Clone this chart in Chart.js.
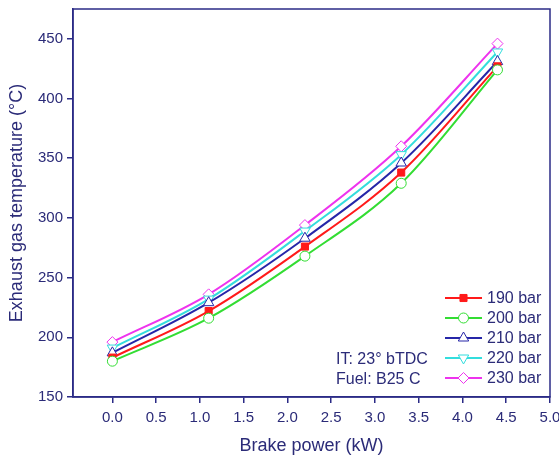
<!DOCTYPE html>
<html><head><meta charset="utf-8">
<script src="https://cdn.jsdelivr.net/npm/chart.js@4/dist/chart.umd.min.js"></script>
<style>html,body{margin:0;padding:0;background:#fff}#wrap{width:559px;height:457px}</style>
</head><body><div id="wrap"><canvas id="c" width="559" height="457"></canvas></div>
<script>
const brakePower = [0.0, 1.1, 2.2, 3.3, 4.4];
const seriesLabels = ['190 bar', '200 bar', '210 bar', '220 bar', '230 bar'];
const temp190 = [183, 222, 276, 338, 427];
const temp200 = [180, 216, 268, 329, 424];
const temp210 = [187, 229, 283, 346, 431];
const temp220 = [191, 232, 289, 353, 439];
const temp230 = [196, 236, 294, 360, 446];
const yTicks = [150, 200, 250, 300, 350, 400, 450];
const xTicks = [0, 0.5, 1, 1.5, 2, 2.5, 3, 3.5, 4, 4.5, 5];
const annotationLines = ['IT: 23\u00B0 bTDC', 'Fuel: B25 C'];

const AX = '#2b2b86';
const TXT = '#2b2b78';
const FONT = '"Liberation Sans", Arial, sans-serif';
const styles = [
  {c:'#ff1a1a', pt:'rect', fill:'#ff1a1a', rot:0, r:5},
  {c:'#33dd33', pt:'circle', fill:'#ffffff', rot:0, r:5},
  {c:'#2626a8', pt:'triangle', fill:'#ffffff', rot:0, r:6},
  {c:'#33dddd', pt:'triangle', fill:'#ffffff', rot:180, r:6},
  {c:'#ee33ee', pt:'rectRot', fill:'#ffffff', rot:0, r:5.5}
];
const allData = [temp190, temp200, temp210, temp220, temp230];
const drawOrder = [1,0,2,3,4];

const datasets = drawOrder.map(i => ({
  label: seriesLabels[i],
  data: brakePower.map((x,k)=>({x:x, y:allData[i][k]})),
  borderColor: styles[i].c,
  backgroundColor: styles[i].fill,
  pointStyle: styles[i].pt,
  pointRotation: styles[i].rot,
  pointRadius: styles[i].r,
  pointBorderWidth: 1,
  pointBorderColor: styles[i].c,
  borderWidth: 2,
  tension: 0.4,
  cubicInterpolationMode: 'monotone',
  fill: false
}));

const framePlugin = {
  id: 'frame',
  afterDraw(chart) {
    const ctx = chart.ctx, a = chart.chartArea;
    ctx.save();
    ctx.strokeStyle = AX; ctx.lineWidth = 1.5;
    ctx.strokeRect(a.left, a.top, a.right - a.left, a.bottom - a.top);
    const lx0 = 445, lx1 = 482, tx = 487;
    const rowY = [298, 318, 338, 358, 378];
    ctx.font = '16px ' + FONT;
    ctx.textBaseline = 'middle';
    for (let i = 0; i < 5; i++) {
      const s = styles[i], y = rowY[i];
      ctx.strokeStyle = s.c; ctx.lineWidth = 2;
      ctx.beginPath(); ctx.moveTo(lx0, y); ctx.lineTo(lx1, y); ctx.stroke();
      ctx.lineWidth = 1;
      ctx.fillStyle = s.fill; ctx.strokeStyle = s.c;
      Chart.helpers.drawPoint(ctx, {pointStyle: s.pt, rotation: s.rot, radius: s.r, borderWidth: 1}, (lx0+lx1)/2, y);
      ctx.fillStyle = TXT; ctx.textAlign = 'left';
      ctx.fillText(seriesLabels[i], tx, y + 1);
    }
    ctx.fillStyle = TXT; ctx.textAlign = 'left';
    ctx.fillText(annotationLines[0], 336, 360);
    ctx.fillText(annotationLines[1], 336, 380);
    ctx.restore();
  }
};

const noPad = s => { s.paddingLeft = 0; s.paddingRight = 0; s.paddingTop = 0; s.paddingBottom = 0; };

new Chart(document.getElementById('c'), {
  type: 'line',
  data: { datasets },
  options: {
    responsive: false,
    animation: false,
    layout: { padding: { top: 9, right: 9, left: 6, bottom: 0 } },
    plugins: { legend: { display: false }, tooltip: { enabled: false } },
    scales: {
      x: {
        type: 'linear', min: -0.45, max: 5.0,
        afterBuildTicks: s => { s.ticks = xTicks.map(v => ({value: v})); },
        afterFit: s => { s.height = 60; noPad(s); },
        grid: { drawOnChartArea: false, color: AX, tickLength: 6, lineWidth: 1.5 },
        border: { color: AX, width: 1.5 },
        ticks: { color: TXT, font: { size: 15, family: FONT }, padding: 6,
                 callback: v => Number(v).toFixed(1), maxRotation: 0, autoSkip: false },
        title: { display: true, text: 'Brake power (kW)', color: TXT,
                 font: { size: 18, family: FONT }, padding: { top: 6, bottom: 0 } }
      },
      y: {
        type: 'linear', min: 150, max: 475,
        afterBuildTicks: s => { s.ticks = yTicks.map(v => ({value: v})); },
        afterFit: s => { s.width = 67; noPad(s); },
        grid: { drawOnChartArea: false, color: AX, tickLength: 6, lineWidth: 1.5 },
        border: { color: AX, width: 1.5 },
        ticks: { color: TXT, font: { size: 15, family: FONT }, padding: 4 },
        title: { display: true, text: 'Exhaust gas temperature (\u00B0C)', color: TXT,
                 font: { size: 18, family: FONT }, padding: { top: 0, bottom: 2 } }
      }
    }
  },
  plugins: [framePlugin]
});
</script>
</body></html>
